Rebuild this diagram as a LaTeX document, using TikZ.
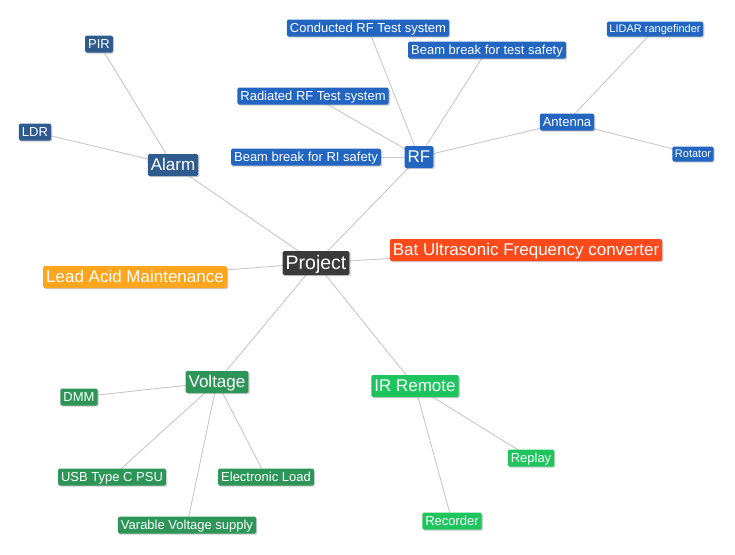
\documentclass[tikz,border=0pt]{standalone}
\usepackage{fontspec}
\setmainfont{Liberation Sans}
\usetikzlibrary{backgrounds,shadows}

\definecolor{Cproject}{HTML}{3A3A3A}
\definecolor{Calarm}{HTML}{305B8F}
\definecolor{Crf}{HTML}{2266C2}
\definecolor{Clead}{HTML}{FFA51E}
\definecolor{Cbat}{HTML}{FF4A1C}
\definecolor{Cvolt}{HTML}{2E9558}
\definecolor{Cir}{HTML}{1EC45E}
\definecolor{Clink}{HTML}{C8C8C8}

\begin{document}
\begin{tikzpicture}[x=1pt,y=-1pt,
		box/.style={rounded corners=1.5pt,text=white,inner xsep=3pt,
			drop shadow={shadow xshift=1.2pt,shadow yshift=-1.2pt,opacity=0.35,fill=black!60}},
		leaf/.style={box,font=\fontsize{13}{13}\selectfont,
			text height=10.5pt,text depth=1.5pt,inner ysep=2.5pt},
		tiny/.style={box,font=\fontsize{11}{11}\selectfont,inner xsep=2.5pt,
			text height=9pt,text depth=1.2pt,inner ysep=2.4pt},
		hub/.style={box,font=\fontsize{17}{17}\selectfont,
			text height=13.5pt,text depth=2.5pt,inner ysep=3pt},
		link/.style={line width=0.9pt,Clink}]
	\useasboundingbox (0,0) rectangle (735,554);
	% centre
	\node[box,fill=Cproject,font=\fontsize{19.5}{19.5}\selectfont,
		text height=15.5pt,text depth=2.5pt,inner ysep=3pt] (proj) at (316,263) {Project};
	% alarm
	\node[hub,fill=Calarm] (alarm) at (173,165) {Alarm};
	\node[leaf,fill=Calarm] (pir) at (99,44) {PIR};
	\node[leaf,fill=Calarm] (ldr) at (35,132) {LDR};
	% rf
	\node[hub,fill=Crf] (rf) at (419,157) {RF};
	\node[leaf,fill=Crf] (cond) at (368,28) {Conducted RF Test system};
	\node[leaf,fill=Crf] (bbtest) at (487,50) {Beam break for test safety};
	\node[leaf,fill=Crf] (rad) at (313,96) {Radiated RF Test system};
	\node[leaf,fill=Crf] (bbri) at (306,157) {Beam break for RI safety};
	\node[leaf,fill=Crf] (ant) at (567,122) {Antenna};
	\node[tiny,fill=Crf] (lidar) at (655,29) {LIDAR rangefinder};
	\node[tiny,fill=Crf] (rot) at (693,154) {Rotator};
	% singles
	\node[hub,fill=Clead] (lead) at (135,277) {Lead Acid Maintenance};
	\node[hub,fill=Cbat] (bat) at (526,250) {Bat Ultrasonic Frequency converter};
	% voltage
	\node[hub,fill=Cvolt] (volt) at (217,382) {Voltage};
	\node[leaf,fill=Cvolt] (dmm) at (79,397) {DMM};
	\node[leaf,fill=Cvolt] (usb) at (112,477) {USB Type C PSU};
	\node[leaf,fill=Cvolt] (eload) at (266,477) {Electronic Load};
	\node[leaf,fill=Cvolt] (varv) at (187,525) {Varable Voltage supply};
	% ir remote
	\node[hub,fill=Cir] (ir) at (415,386) {IR Remote};
	\node[leaf,fill=Cir] (replay) at (531,458) {Replay};
	\node[leaf,fill=Cir] (rec) at (452,521) {Recorder};
	% links
	\begin{scope}[on background layer]
		\foreach \a/\b in {proj/alarm,proj/rf,proj/lead,proj/bat,proj/volt,proj/ir,
			alarm/pir,alarm/ldr,rf/cond,rf/bbtest,rf/rad,rf/bbri,rf/ant,ant/lidar,ant/rot,
			volt/dmm,volt/usb,volt/eload,volt/varv,ir/replay,ir/rec}
			\draw[link] (\a.center) -- (\b.center);
	\end{scope}
\end{tikzpicture}
\end{document}
